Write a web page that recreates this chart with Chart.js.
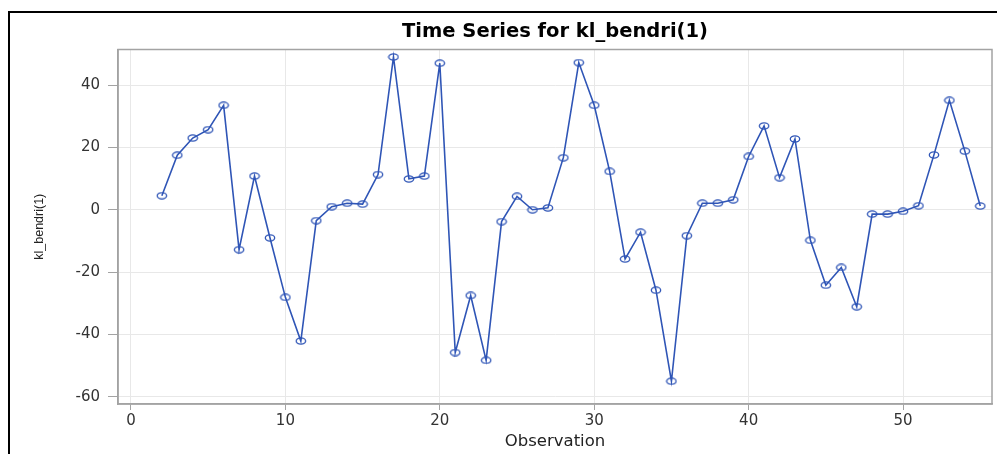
<!DOCTYPE html>
<html>
<head>
<meta charset="utf-8">
<script src="https://cdn.jsdelivr.net/npm/chart.js@4.4.1/dist/chart.umd.min.js"></script>
<style>
  html, body { margin: 0; padding: 0; background: #fff; overflow: hidden; }
  #wrap { position: relative; width: 997px; height: 454px; }
  #frame { position: absolute; left: 8px; top: 11px; width: 1000px; height: 500px;
           border-left: 2px solid #000; border-top: 2px solid #000; pointer-events: none; }
  canvas { position: absolute; left: 0; top: 0; }
</style>
</head>
<body>
<div id="wrap">
  <canvas id="myChart" width="997" height="454"></canvas>
  <div id="frame"></div>
</div>
<script>
// observation number
var observations = [2, 3, 4, 5, 6, 7, 8, 9, 10, 11, 12, 13, 14, 15, 16, 17, 18, 19, 20,
    21, 22, 23, 24, 25, 26, 27, 28, 29, 30, 31, 32, 33, 34, 35, 36, 37, 38, 39, 40,
    41, 42, 43, 44, 45, 46, 47, 48, 49, 50, 51, 52, 53, 54, 55];
// kl_bendri(1) values
var values = [4.5, 17.5, 23.0, 25.7, 33.5, -12.8, 10.8, -9.0, -28.1, -42.1, -3.5, 1.0, 2.1,
    1.8, 11.3, 49.0, 9.9, 10.8, 47.0, -45.8, -27.5, -48.3, -3.8, 4.3, 0.0, 0.6, 16.7,
    47.2, 33.5, 12.3, -15.8, -7.2, -25.8, -55.0, -8.3, 2.1, 2.1, 3.2, 17.1, 26.9, 10.3,
    22.7, -9.8, -24.2, -18.5, -31.1, -1.4, -1.4, -0.5, 1.3, 17.6, 35.1, 18.8, 1.2];
var xTicks = [0, 10, 20, 30, 40, 50];
var yTicks = [-60, -40, -20, 0, 20, 40];

var points = [];
for (var i = 0; i < observations.length; i++) {
    points.push({ x: observations[i], y: values[i] });
}

var lineBlue = '#2f55b6';
var axisGray = '#a3a3a3';
var gridGray = '#e8e8e8';

// open oval marker, a bit wider than tall like the original
var marker = document.createElement('canvas');
marker.width = 12;
marker.height = 8;
var mctx = marker.getContext('2d');
mctx.strokeStyle = lineBlue;
mctx.lineWidth = 1.3;
mctx.beginPath();
mctx.ellipse(6, 4, 4.7, 3.1, 0, 0, Math.PI * 2);
mctx.stroke();

// gray box round the plot area
var areaBox = {
    id: 'areaBox',
    beforeDatasetsDraw: function(chart) {
        var a = chart.chartArea, ctx = chart.ctx;
        ctx.save();
        ctx.strokeStyle = axisGray;
        ctx.lineWidth = 1.5;
        ctx.strokeRect(a.left, a.top, a.right - a.left, a.bottom - a.top);
        ctx.restore();
    }
};

var ctx = document.getElementById('myChart');
var chart = new Chart(ctx, {
    type: 'line',
    data: {
        datasets: [{
            label: 'kl_bendri(1)',
            data: points,
            borderColor: lineBlue,
            borderWidth: 1.6,
            pointStyle: marker,
            pointRadius: 5,
            tension: 0,
            fill: false
        }]
    },
    options: {
        responsive: false,
        animation: false,
        devicePixelRatio: 1,
        layout: { autoPadding: false, padding: { left: 0, right: 5, top: 0, bottom: 0 } },
        plugins: {
            legend: { display: false },
            tooltip: { enabled: false },
            title: {
                display: true,
                fullSize: false,
                text: 'Time Series for kl_bendri(1)',
                color: '#000',
                font: { family: 'DejaVu Sans', size: 19.5, weight: 'bold', lineHeight: 1.2 },
                padding: { top: 20.3, bottom: 5.8 }
            }
        },
        scales: {
            x: {
                type: 'linear',
                min: -0.84,
                max: 55.76,
                afterBuildTicks: function(s) { s.ticks = xTicks.map(function(v) { return { value: v }; }); },
                afterFit: function(s) { s.height = 50; s.paddingLeft = 0; s.paddingRight = 0; },
                grid: { color: gridGray, tickColor: axisGray, tickLength: 6, drawTicks: true },
                border: { display: true, color: axisGray, width: 1.5 },
                ticks: {
                    color: '#333',
                    padding: 2,
                    maxRotation: 0,
                    font: { family: 'DejaVu Sans', size: 15 }
                },
                title: {
                    display: true,
                    text: 'Observation',
                    color: '#222',
                    font: { family: 'DejaVu Sans', size: 16.5, lineHeight: 1.2 },
                    padding: { top: 0, bottom: 2.4 }
                }
            },
            y: {
                min: -62.3,
                max: 51.4,
                afterBuildTicks: function(s) { s.ticks = yTicks.map(function(v) { return { value: v }; }); },
                afterFit: function(s) { s.width = 118; s.paddingTop = 0; s.paddingBottom = 0; },
                grid: { color: gridGray, tickColor: axisGray, tickLength: 10, drawTicks: true },
                border: { display: true, color: axisGray, width: 1.5 },
                ticks: {
                    color: '#333',
                    padding: 8,
                    font: { family: 'DejaVu Sans', size: 15 }
                },
                title: {
                    display: true,
                    text: 'kl_bendri(1)',
                    color: '#222',
                    font: { family: 'Liberation Sans', size: 12.5, lineHeight: 1.2 },
                    padding: { top: 32.5, bottom: 0 }
                }
            }
        }
    },
    plugins: [areaBox]
});
</script>
</body>
</html>
